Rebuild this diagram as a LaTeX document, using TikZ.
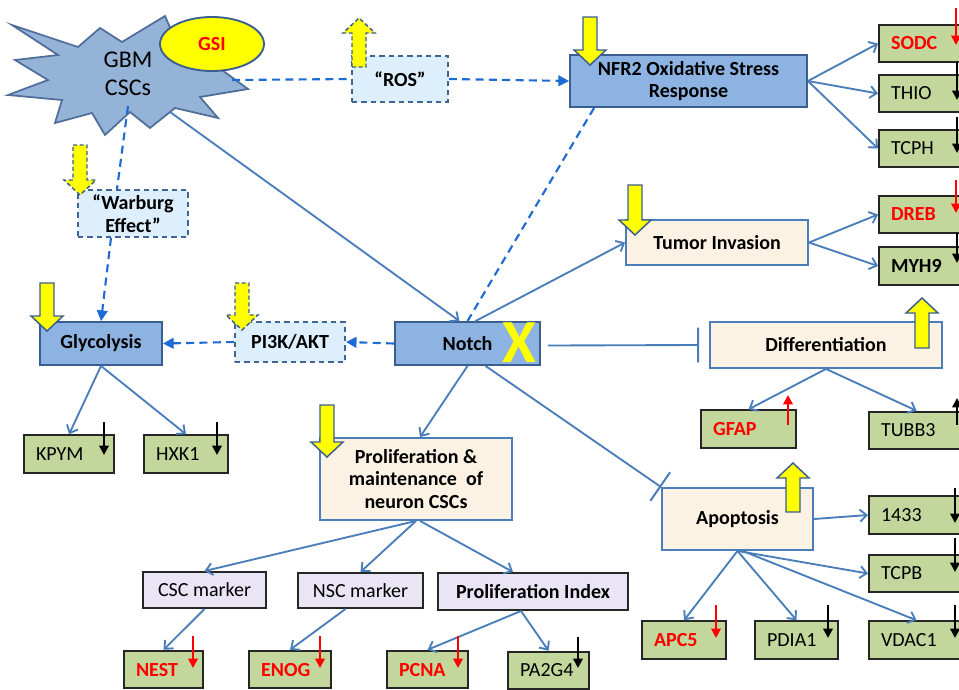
\documentclass[tikz,border=0pt]{standalone}
\usepackage{fontspec}
\setmainfont{Carlito}
\usetikzlibrary{arrows.meta,shapes.geometric,calc}
\definecolor{boxblue}{HTML}{8DB3E2}
\definecolor{boxblueb}{HTML}{3B5E91}
\definecolor{starfill}{HTML}{95B3D7}
\definecolor{starline}{HTML}{4F6D9A}
\definecolor{lightb}{HTML}{DDEFFC}
\definecolor{dashb}{HTML}{3F6597}
\definecolor{beige}{HTML}{FCF2E4}
\definecolor{beigeb}{HTML}{4A7EBB}
\definecolor{genefill}{HTML}{C3D69B}
\definecolor{lav}{HTML}{E9E5F5}
\definecolor{connc}{HTML}{4A7EBB}
\definecolor{dconnc}{HTML}{1F6BD6}
\definecolor{yel}{HTML}{FFFF00}
\definecolor{redt}{HTML}{FF0000}
\newcommand\ydn[4][]{\draw[yarrow,#1] (#2-7,#3) -- (#2+7,#3) -- (#2+7,#4-15) -- (#2+16,#4-15) -- (#2,#4) -- (#2-16,#4-15) -- (#2-7,#4-15) -- cycle;}
\newcommand\yup[4][]{\draw[yarrow,#1] (#2-7,#3) -- (#2+7,#3) -- (#2+7,#4+15) -- (#2+16,#4+15) -- (#2,#4) -- (#2-16,#4+15) -- (#2-7,#4+15) -- cycle;}
\begin{document}
\begin{tikzpicture}[x=0.75pt,y=-0.75pt,
  every node/.style={font=\fontsize{15}{17}\selectfont},
  bluebox/.style={draw=boxblueb, fill=boxblue, line width=1.4pt, align=center, inner sep=0pt, font=\fontsize{15}{17}\selectfont\bfseries},
  dashbox/.style={draw=dashb, dash pattern=on 4pt off 3pt, fill=lightb, line width=1.3pt, align=center, inner sep=0pt, font=\fontsize{15}{17}\selectfont\bfseries},
  beigebox/.style={draw=beigeb, fill=beige, line width=1.4pt, align=center, inner sep=0pt, font=\fontsize{15}{17}\selectfont\bfseries},
  lavbox/.style={draw=black!85, fill=lav, line width=1.5pt, align=center, inner sep=0pt},
  gene/.style={draw=black!85, fill=genefill, line width=1.6pt, minimum height=28pt, align=left, inner xsep=9pt, inner ysep=0pt, anchor=west},
  redg/.style={text=redt, font=\fontsize{15}{17}\selectfont\bfseries},
  solidarrow/.style={draw=connc, line width=1.4pt, -{Straight Barb[length=5pt,width=9pt]}},
  dashline/.style={draw=dconnc, line width=1.6pt, dash pattern=on 6pt off 4pt},
  dasharrow/.style={dashline, -{Triangle[length=8pt,width=8pt]}},
  inhib/.style={draw=connc, line width=1.4pt, -{Bar[width=26pt,line width=1.5pt]}},
  blk/.style={draw=black, line width=1.7pt, -{Triangle[length=7pt,width=7pt]}},
  rdk/.style={draw=redt, line width=1.7pt, -{Triangle[length=7pt,width=7pt]}},
  yarrow/.style={draw=boxblueb, fill=yel, line width=1.1pt, line join=miter},
  yarrowd/.style={dash pattern=on 3pt off 2pt},
]
\useasboundingbox (0,0) rectangle (959,689);
\fill[white] (0,0) rectangle (959,689);

% starburst
\draw[fill=starfill, draw=starline, line width=1.3pt, line join=miter]
 (12,25) -- (78,47) -- (100,28) -- (122,42) -- (165,16) -- (180,50) -- (215,65) -- (248,89) -- (200,97) -- (218,118) -- (175,108) -- (150,128) -- (130,112) -- (105,135) -- (92,113) -- (55,123) -- (62,100) -- (8,95) -- (48,80) -- (15,60) -- (58,55) -- cycle;
\node[font=\fontsize{18}{21}\selectfont, align=center] (gbm) at (128,74) {GBM\\CSCs};
\coordinate (gbmR) at (232,80);
\coordinate (gbmB) at (128,106);
\coordinate (gbmD) at (170,112);
\node[ellipse, draw=boxblueb, fill=yel, line width=1.4pt, minimum width=78pt, minimum height=40.5pt, text=redt, font=\fontsize{15}{17}\selectfont\bfseries] (gsi) at (212,44) {GSI};

% main boxes
\node[dashbox, minimum width=72pt, minimum height=34.5pt] (ros) at (400,79) {“ROS”};
\node[bluebox, minimum width=177.75pt, minimum height=39pt] (nfr) at (688.5,81) {NFR2 Oxidative Stress\\Response};
\node[dashbox, minimum width=82.5pt, minimum height=35.25pt] (warburg) at (133,213.5) {“Warburg\\Effect”};
\node[bluebox, minimum width=91.5pt, minimum height=32.25pt] (glyco) at (101,343.5) {Glycolysis};
\node[dashbox, minimum width=82.5pt, minimum height=30pt] (pi3k) at (290,342) {PI3K/AKT};
\node[bluebox, minimum width=108.75pt, minimum height=32.25pt] (notch) at (467.5,343.5) {Notch};
\node[text=yel, font=\fontsize{46}{46}\selectfont\bfseries, inner sep=0pt] (xmark) at (519,343) {X};
\node[beigebox, minimum width=136.5pt, minimum height=33.75pt] (tumor) at (717,242.5) {Tumor Invasion};
\node[beigebox, minimum width=174pt, minimum height=34.5pt] (diff) at (826,345) {Differentiation};
\node[beigebox, minimum width=144pt, minimum height=61.5pt] (prolif) at (416,479) {Proliferation \&\\maintenance~~of\\neuron CSCs};
\node[beigebox, minimum width=113.25pt, minimum height=46.5pt] (apop) at (737.5,519) {Apoptosis};
\node[lavbox, minimum width=92.25pt, minimum height=27pt] (csc) at (204.5,590) {CSC marker};
\node[lavbox, minimum width=93.75pt, minimum height=26.25pt] (nsc) at (360.5,590.5) {NSC marker};
\node[lavbox, minimum width=142.5pt, minimum height=27.75pt, font=\fontsize{15}{17}\selectfont\bfseries] (pidx) at (533,591.5) {Proliferation Index};

% gene boxes
\node[gene, text width=49.5pt] (kpym) at (23,454) {KPYM};
\node[gene, text width=45pt] (hxk1) at (143,454) {HXK1};
\node[gene, text width=53.25pt, redg] (gfap) at (700,429) {GFAP};
\node[gene, text width=62.25pt] (tubb3) at (868,430.5) {TUBB3};
\node[gene, text width=54.75pt, redg] (sodc) at (878,43.5) {SODC};
\node[gene, text width=54.75pt] (thio) at (878,93.5) {THIO};
\node[gene, text width=54.75pt] (tcph) at (878,148.5) {TCPH};
\node[gene, text width=54.75pt, redg] (dreb) at (878,214.5) {DREB};
\node[gene, text width=54.75pt, font=\fontsize{15}{17}\selectfont\bfseries] (myh9) at (878,266) {MYH9};
\node[gene, text width=62.25pt] (n1433) at (868,515) {1433};
\node[gene, text width=62.25pt] (tcpb) at (868,573.5) {TCPB};
\node[gene, text width=62.25pt] (vdac1) at (868,640) {VDAC1};
\node[gene, text width=45pt, redg] (apc5) at (641,640) {APC5};
\node[gene, text width=44.25pt] (pdia1) at (754,640) {PDIA1};
\node[gene, text width=41.25pt, redg] (nest) at (123,669.5) {NEST};
\node[gene, text width=43.5pt, redg] (enog) at (248,669.5) {ENOG};
\node[gene, text width=42.75pt, redg] (pcna) at (386,669.5) {PCNA};
\node[gene, text width=42.75pt] (pa2g4) at (507,670.5) {PA2G4};

% connectors
\draw[dashline] (gbmR) -- (ros.west);
\draw[dasharrow] (ros.east) -- (nfr.west);
\draw[dashline] (gbmB) -- ($(warburg.north)+(-16,0)$);
\draw[dasharrow] ($(warburg.south)+(-22,0)$) -- (glyco.north);
\draw[solidarrow] (gbmD) -- ($(notch.north)+(-8,0)$);
\draw[dashline] ($(nfr.south west)+(25,0)$) -- (notch.north);
\draw[solidarrow] ($(notch.north)+(8,0)$) -- (tumor.west);
\draw[dasharrow] (notch.west) -- (pi3k.east);
\draw[dasharrow] (pi3k.west) -- (glyco.east);
\draw[inhib] ($(notch.east)+(7,2)$) -- ($(diff.west)+(-10,0)$);
\draw[solidarrow] (notch.south) -- ($(prolif.north)+(4,0)$);
\draw[inhib] ($(notch.south)+(18,0)$) -- (apop.north west);
\draw[solidarrow] (nfr.east) -- (sodc.west);
\draw[solidarrow] (nfr.east) -- (thio.west);
\draw[solidarrow] (nfr.east) -- (tcph.west);
\draw[solidarrow] (tumor.east) -- (dreb.west);
\draw[solidarrow] (tumor.east) -- (myh9.west);
\draw[solidarrow] (diff.south) -- (gfap.north);
\draw[solidarrow] (diff.south) -- ($(tubb3.north)+(-6,0)$);
\draw[solidarrow] (glyco.south) -- (kpym.north);
\draw[solidarrow] (glyco.south) -- (hxk1.north);
\draw[solidarrow] (prolif.south) -- (csc.north);
\draw[solidarrow] (prolif.south) -- (nsc.north);
\draw[solidarrow] ($(prolif.south)+(4,0)$) -- ($(pidx.north)+(-20,0)$);
\draw[solidarrow] (csc.south) -- (nest.north);
\draw[solidarrow] ($(nsc.south)+(-15,0)$) -- (enog.north);
\draw[solidarrow] ($(pidx.south)+(-12,0)$) -- (pcna.north);
\draw[solidarrow] ($(pidx.south)+(-12,0)$) -- (pa2g4.north);
\draw[solidarrow] (apop.east) -- (n1433.west);
\draw[solidarrow] (apop.south) -- (apc5.north);
\draw[solidarrow] (apop.south) -- (pdia1.north);
\draw[solidarrow] (apop.south) -- (tcpb.west);
\draw[solidarrow] ($(apop.south)+(5,0)$) -- ($(vdac1.north)+(-6,0)$);

% small expression arrows
\draw[blk] (104,422) -- (104,455);
\draw[blk] (217,422) -- (217,455);
\draw[rdk] (956,8) -- (956,45);
\draw[blk] (957,62) -- (957,100);
\draw[blk] (957,117) -- (957,153);
\draw[rdk] (956,180) -- (956,213);
\draw[blk] (957,233) -- (957,263);
\draw[rdk] (788,425) -- (788,395);
\draw[blk] (957,425) -- (957,398);
\draw[blk] (955,488) -- (955,523);
\draw[blk] (955,538) -- (955,572);
\draw[blk] (955,605) -- (955,638);
\draw[blk] (828,605) -- (828,638);
\draw[rdk] (716,605) -- (716,638);
\draw[blk] (578,637) -- (578,668);
\draw[rdk] (458,636) -- (458,668);
\draw[rdk] (320,636) -- (320,668);
\draw[rdk] (193,636) -- (193,668);

% yellow block arrows
\ydn{590}{17}{65}
\yup[yarrowd]{359}{67}{18}
\ydn[yarrowd]{80}{145}{195}
\ydn{47}{283}{331}
\ydn[yarrowd]{242}{283}{330}
\ydn{635}{185}{235}
\ydn{327}{405}{457}
\yup{922}{348}{298}
\yup{793}{512}{463}
\end{tikzpicture}
\end{document}
